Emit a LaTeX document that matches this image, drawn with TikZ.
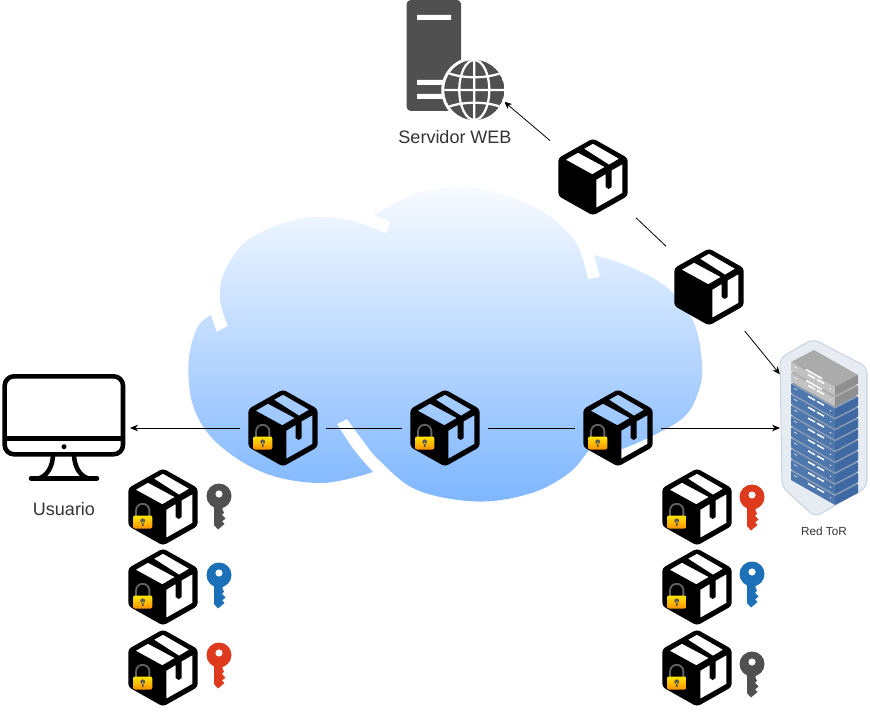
\documentclass[tikz,border=0pt]{standalone}
\usepackage{fontspec}
\setmainfont{Liberation Sans}
\usetikzlibrary{arrows.meta}

\definecolor{oscuro}{HTML}{505050}
\definecolor{azulllave}{HTML}{1B70B8}
\definecolor{rojollave}{HTML}{DD3A1E}
\definecolor{nubeabajo}{HTML}{7EB6FF}
\definecolor{nubearriba}{HTML}{F8FBFF}
\definecolor{rackfondo}{HTML}{E7ECF2}
\definecolor{rackborde}{HTML}{C8D5E2}
\definecolor{azulizq}{HTML}{4E77AD}
\definecolor{azulder}{HTML}{3F69A3}
\definecolor{azultop}{HTML}{8C9CB2}
\definecolor{grisizq}{HTML}{C2C2C2}
\definecolor{grisder}{HTML}{8F8F8F}
\definecolor{gristop}{HTML}{ABABAB}

\tikzset{
    icono/.style={inner sep=0pt,outer sep=0pt,minimum width=86*.75pt,minimum height=88*.75pt},
    flecha/.style={-{Stealth[length=6pt,width=5pt]},line width=.6pt},
    linea/.style={line width=.6pt},
    etiqueta/.style={inner sep=0pt,font=\fontsize{13.5}{16}\selectfont,text=black!80},
    pics/caja/.style={code={
        \fill[black,even odd rule,rounded corners=2.5pt]
            (0,-38.5) -- (34.7,-19) -- (34.7,19) -- (0,38.5) -- (-34.7,19) -- (-34.7,-19) -- cycle
            [sharp corners]
            (-27.3,-17.3) -- (-15,-24.3) -- (11.7,-10) -- (-.7,-2.7) -- cycle
            (-9,-28.3) -- (0,-33.3) -- (26,-18.3) -- (16,-12.3) -- cycle
            (3.3,2.7) -- (12.7,-3) -- (12.7,10) -- (15.7,12) -- (18.7,10) -- (18.7,-6.7)
                -- (29.3,-12.7) -- (29.3,16) -- (3.3,30.7) -- cycle;
    }},
    pics/candado/.style={code={
        \draw[black!62,line width=1.4pt] (-27,9) -- (-27,3.5) arc[start angle=180,end angle=360,radius=6.7] -- (-13.6,9);
        \shade[top color=yellow!80!orange,bottom color=orange!85!yellow,rounded corners=1.5pt]
            (-30,8.5) rectangle (-10.7,21.5);
        \fill[black!65] (-20.3,13.8) circle[radius=2.4] (-21.2,14.5) rectangle (-19.4,19);
    }},
    pics/llave/.style={code={
        \fill[#1,even odd rule] (0,0) circle[radius=12.5] (0,-2) circle[radius=3.7];
        \fill[#1] (-5,8) -- (-5,29) -- (-1,33.5) -- (5.5,28) -- (3,25.5) -- (6.5,22.5)
            -- (3,19) -- (5,16.5) -- (3.5,14) -- (3.5,8) -- cycle;
    }},
}

\begin{document}
\begin{tikzpicture}[x=.75pt,y=-.75pt]
    \useasboundingbox (0,0) rectangle (870,712);

    % nube
    \shade[top color=nubearriba,bottom color=nubeabajo]
        plot[smooth,tension=.6] coordinates {(386,233) (349,220) (315,217) (278,225) (244,243) (224,273) (220,300) (228,326)}
        -- (216.5,332)
        -- plot[smooth,tension=.6] coordinates {(211,315) (197,328) (188.5,363) (193.5,407) (217,443) (264.5,473) (322,483) (373,472)}
        -- plot[smooth,tension=.6] coordinates {(373,472) (354,450) (337,424)}
        -- plot[smooth,tension=.6] coordinates {(347,419) (362.5,440) (379,460) (417,490) (477.5,501.5) (531.5,493) (569,473) (589,450) (600,436)}
        -- plot[smooth,tension=.6] coordinates {(612,453) (648,438) (684,417) (699,390) (702,363) (694,323) (670,290) (633,268) (594,255)}
        -- (600,277)
        -- plot[smooth,tension=.6] coordinates {(588,279) (575.5,242) (545,213) (504.5,195) (464,187) (416.6,193) (374.4,215)}
        -- (390.6,222) -- cycle;

    % nodos de la red
    \node[icono,minimum width=98*.75pt,minimum height=120*.75pt] (servidor) at (455,60) {};
    \node[icono,minimum width=132*.75pt,minimum height=108*.75pt] (usuario) at (64,428) {};
    \node[icono,minimum width=87*.75pt,minimum height=178*.75pt] (tor) at (823.5,428) {};
    \node[icono] (caja1) at (593,177) {};
    \node[icono] (caja2) at (709,287) {};
    \node[icono] (cifrada1) at (283,428) {};
    \node[icono] (cifrada2) at (445,428) {};
    \node[icono] (cifrada3) at (618,428) {};

    % conexiones
    \draw[flecha] (caja1) -- (servidor);
    \draw[linea] (caja2) -- (caja1);
    \draw[flecha] (caja2) -- (tor);
    \draw[flecha] (cifrada3) -- (tor);
    \draw[linea] (cifrada3) -- (cifrada2);
    \draw[linea] (cifrada2) -- (cifrada1);
    \draw[flecha] (cifrada1) -- (usuario);

    % paquetes
    \foreach \n in {caja1,caja2}
        \pic at (\n) {caja};
    \foreach \n in {cifrada1,cifrada2,cifrada3} {
        \pic at (\n) {caja};
        \pic at (\n) {candado};
    };
    \foreach \y in {507,587,668}
        \foreach \x in {163,697} {
            \pic at (\x,\y) {caja};
            \pic at (\x,\y) {candado};
        };

    % llaves
    \pic at (219,496) {llave=oscuro};
    \pic at (219,575) {llave=azulllave};
    \pic at (219,655) {llave=rojollave};
    \pic at (752,497) {llave=rojollave};
    \pic at (752,574) {llave=azulllave};
    \pic at (752,664) {llave=oscuro};

    % servidor
    \fill[oscuro,rounded corners=3pt] (406.7,0) rectangle (461,111);
    \fill[white] (417,15) rectangle (451,20) (417,80) rectangle (445,85) (417,94) rectangle (445,99);
    \fill[white] (474.3,90) circle[radius=33];
    \begin{scope}
        \clip (474.3,90) circle[radius=30];
        \fill[oscuro] (474.3,90) circle[radius=30];
        \draw[white,line width=1.7pt] (474.3,55) -- (474.3,125) (440,90) -- (510,90)
            (474.3,90) ellipse[x radius=15,y radius=30]
            (446,72) .. controls (460,79) and (489,79) .. (503,72)
            (446,108) .. controls (460,101) and (489,101) .. (503,108);
    \end{scope}

    % monitor
    \draw[line width=3.4pt,rounded corners=7pt] (4.7,376.3) rectangle (123,454.3);
    \draw[line width=3.4pt] (4.7,438.3) -- (123,438.3);
    \fill (64,446.7) circle[radius=2.5];
    \draw[line width=3.4pt] (53,456) .. controls (52,468) and (47,475) .. (40,478)
        (74,456) .. controls (75,468) and (80,475) .. (87,478);
    \draw[line width=3.4pt,line cap=round] (31,478.3) -- (97,478.3);

    % rack
    \fill[rackfondo,draw=rackborde,line width=.8pt,rounded corners=5pt]
        (813,339) -- (867,367) -- (867,487) -- (815,517) -- (782,487) -- (780,358) -- cycle;
    \foreach \i in {10,...,0} {
        \pgfmathsetmacro{\yy}{362+10.9*\i}
        \pgfmathsetmacro{\yt}{\i<2 ? 8.5 : 9}
        \ifnum\i<2
            \def\ctop{gristop}\def\cizq{grisizq}\def\cder{grisder}
        \else
            \def\ctop{azultop}\def\cizq{azulizq}\def\cder{azulder}
        \fi
        \fill[\ctop] (791,\yy) -- (814,\yy-12) -- (858,\yy+13) -- (835,\yy+25) -- cycle;
        \fill[\cizq] (791,\yy) -- (835,\yy+25) -- (835,\yy+25+\yt) -- (791,\yy+\yt) -- cycle;
        \fill[\cder] (835,\yy+25) -- (858,\yy+13) -- (858,\yy+13+\yt) -- (835,\yy+25+\yt) -- cycle;
        \draw[white,line width=1.1pt] (808,\yy+12.5) -- (815,\yy+16.5) (817,\yy+17.5) -- (824,\yy+21.5);
        \draw[white,line width=.4pt] (794,\yy+4.5) -- (797,\yy+6.2);
        \fill[white] (830.5,\yy+27) circle[radius=.7];
    };
    \foreach \i in {0,1}
        \draw[white,line width=1.1pt] (806,362+10.9*\i+7.5) -- (822,362+10.9*\i+16.5);

    % etiquetas
    \node[etiqueta] (lblservidor) at (455,137) {Servidor WEB};
    \node[etiqueta] (lblusuario) at (64,509) {Usuario};
    \node[etiqueta,font=\fontsize{8.8}{10}\selectfont] (lbltor) at (824,531) {Red ToR};
\end{tikzpicture}
\end{document}
